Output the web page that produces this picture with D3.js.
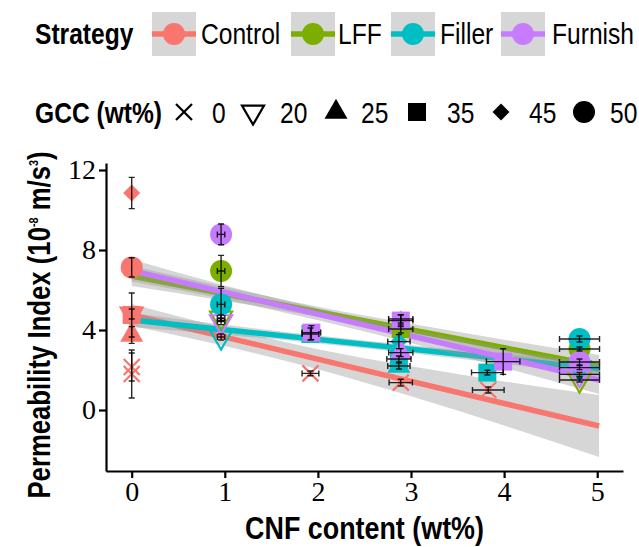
<!DOCTYPE html>
<html>
<head>
<meta charset="utf-8">
<script src="https://cdn.jsdelivr.net/npm/d3@7"></script>
<style>
  html, body { margin: 0; padding: 0; background: #fff; }
  svg { display: block; }
</style>
</head>
<body>
<svg id="chart" width="639" height="547"></svg>
<script>
// ---------------- DATA ----------------
const strategies = ["Control", "LFF", "Filler", "Furnish"];
const gccLevels = [0, 20, 25, 35, 45, 50];
const xTicks = [0, 1, 2, 3, 4, 5];
const yTicks = [0, 4, 8, 12];

// points (one entry per measured sample)
const ptStrategy = ["Control","Control","Control","Control","Control","Control","Control","Control","Control","Control",
                    "LFF","LFF","LFF","LFF","LFF",
                    "Filler","Filler","Filler","Filler","Filler","Filler","Filler","Filler","Filler",
                    "Furnish","Furnish","Furnish","Furnish","Furnish","Furnish","Furnish","Furnish","Furnish"];
const ptGCC      = [0, 0, 20, 25, 35, 45, 50, 0, 0, 0,
                    20, 35, 20, 50, 50,
                    20, 50, 35, 25, 35, 45, 35, 20, 50,
                    20, 50, 35, 25, 35, 45, 35, 20, 50];
const ptCNF      = [0, 0, 0, 0, 0, 0, 0, 1.92, 2.89, 3.83,
                    0.96, 2.89, 4.81, 0.96, 4.81,
                    0.96, 0.96, 1.92, 2.87, 2.87, 2.87, 3.82, 4.81, 4.81,
                    0.96, 0.96, 1.93, 2.89, 2.89, 2.89, 3.99, 4.81, 4.81];
const ptPI       = [2.15, 1.8, 4.8, 3.75, 4.75, 10.85, 7.13, 1.83, 1.37, 1.0,
                    4.6, 4.05, 1.5, 6.95, 3.05,
                    3.65, 5.28, 3.8, 2.2, 2.55, 3.42, 1.87, 2.12, 3.55,
                    4.42, 8.78, 3.87, 2.87, 4.47, 4.55, 2.42, 1.78, 2.4];
const ptCNFerr   = [0, 0, 0, 0, 0, 0, 0, 0.09, 0.125, 0.17,
                    0.04, 0.13, 0.215, 0.04, 0.215,
                    0.04, 0.04, 0.09, 0.12, 0.13, 0.12, 0.17, 0.215, 0.215,
                    0.04, 0.04, 0.1, 0.13, 0.13, 0.13, 0.18, 0.215, 0.215];
const ptPIerr    = [0.7, 1.2, 0.25, 0.42, 1.1, 0.78, 0.48, 0.12, 0.17, 0.15,
                    0.15, 0.2, 0.1, 0.78, 0.1,
                    0.15, 0.8, 0.3, 0.15, 0.15, 0.35, 0.12, 0.1, 0.15,
                    0.15, 0.52, 0.35, 0.2, 0.3, 0.2, 0.64, 0.1, 0.15];

// linear fits at x = 0 and x = 5.02
const fitX0 = 0, fitX1 = 5.02;
const fitAt0 = [4.75, 6.7, 4.5, 6.97];
const fitAt1 = [-0.8, 2.2, 2.06, 1.5];
// confidence band half-widths read at these CNF positions
const bandX = [0, 1, 2, 3, 4, 5.02];
const bandControl = [0.55, 0.45, 0.5, 0.75, 1.1, 1.55];
const bandLFF     = [0.5, 0.35, 0.25, 0.3, 0.4, 0.55];
const bandFiller  = [0.35, 0.25, 0.2, 0.2, 0.25, 0.35];
const bandFurnish = [0.55, 0.35, 0.3, 0.35, 0.5, 0.7];

// ---------------- STYLE ----------------
const colors = {Control: "#F8766D", LFF: "#7CAE00", Filler: "#00BFC4", Furnish: "#C77CFF"};
const bands = {Control: bandControl, LFF: bandLFF, Filler: bandFiller, Furnish: bandFurnish};
const SANS = "'Liberation Sans', Arial, sans-serif";
const SERIF = "'Liberation Serif', 'Times New Roman', serif";

const svg = d3.select("#chart");
const x = d3.scaleLinear().domain([-0.276, 5.277]).range([106, 623]);
const y = d3.scaleLinear().domain([-3.05, 12.35]).range([471, 163]);

// condensed text helper (Arial-Narrow-like look)
function narrowText(parent, tx, ty, str, size, bold, anchor, rotate, squeeze) {
  const g = parent.append("g")
    .attr("transform", `translate(${tx},${ty})` + (rotate ? ` rotate(${rotate})` : "") + ` scale(${squeeze || 0.82},1)`);
  const t = g.append("text")
    .style("font-family", SANS).attr("font-size", size)
    .attr("font-weight", bold ? "bold" : "normal")
    .attr("text-anchor", anchor || "start").attr("fill", "#000");
  if (str !== null) t.text(str);
  return t;
}

// shape path generators (centered at 0,0)
function shapePath(gcc) {
  switch (gcc) {
    case 0:  return "M-8,-8L8,8M-8,8L8,-8";
    case 20: { const w = 11, h = 19; return `M${-w},${-h/3}L${w},${-h/3}L0,${2*h/3}Z`; }
    case 25: { const w = 11.5, h = 20; return `M0,${-2*h/3}L${w},${h/3}L${-w},${h/3}Z`; }
    case 35: return "M-9,-9L9,-9L9,9L-9,9Z";
    case 45: return "M0,-8.5L8.5,0L0,8.5L-8.5,0Z";
    case 50: return null;
  }
}
function drawShape(g, gcc, col) {
  if (gcc === 50) {
    g.append("circle").attr("r", 11).attr("fill", col);
  } else if (gcc === 0) {
    g.append("path").attr("d", shapePath(0)).attr("fill", "none").attr("stroke", col).attr("stroke-width", 2.2);
  } else if (gcc === 20) {
    g.append("path").attr("d", shapePath(20)).attr("fill", "none").attr("stroke", col).attr("stroke-width", 2.2);
  } else {
    g.append("path").attr("d", shapePath(gcc)).attr("fill", col);
  }
}

// ---------------- SMOOTHS (ribbon then line, per group) ----------------
const smoothG = svg.append("g");
strategies.forEach((s, i) => {
  const fit = v => fitAt0[i] + (fitAt1[i] - fitAt0[i]) * (v - fitX0) / (fitX1 - fitX0);
  const bd = bandX.map((bx, k) => ({x: bx, lo: fit(bx) - bands[s][k], hi: fit(bx) + bands[s][k]}));
  smoothG.append("path")
    .datum(bd)
    .attr("d", d3.area().x(d => x(d.x)).y0(d => y(d.lo)).y1(d => y(d.hi)).curve(d3.curveMonotoneX))
    .attr("fill", "#999999").attr("fill-opacity", 0.4);
  smoothG.append("path")
    .datum([fitX0, fitX1])
    .attr("d", d3.line().x(d => x(d)).y(d => y(fit(d))))
    .attr("stroke", colors[s]).attr("stroke-width", 5.5).attr("fill", "none");
});

// ---------------- POINTS ----------------
const pts = ptStrategy.map((s, i) => ({s, gcc: ptGCC[i], cnf: ptCNF[i], pi: ptPI[i], ce: ptCNFerr[i], pe: ptPIerr[i]}));
const order = pts.slice().sort((a, b) => strategies.indexOf(a.s) - strategies.indexOf(b.s) || a.gcc - b.gcc);
const ptG = svg.append("g");
order.forEach(p => {
  const g = ptG.append("g").attr("transform", `translate(${x(p.cnf)},${y(p.pi)})`);
  drawShape(g, p.gcc, colors[p.s]);
});

// ---------------- ERROR BARS ----------------
const ebG = svg.append("g").attr("stroke", "#000").attr("stroke-width", 1.4).attr("stroke-opacity", 0.85).attr("fill", "none");
order.forEach(p => {
  const cx = x(p.cnf), cy = y(p.pi);
  if (p.pe > 0) {
    const y1 = y(p.pi + p.pe), y2 = y(p.pi - p.pe);
    ebG.append("path").attr("d", `M${cx},${y1}L${cx},${y2}M${cx-3},${y1}L${cx+3},${y1}M${cx-3},${y2}L${cx+3},${y2}`);
  }
  if (p.ce > 0) {
    const x1 = x(p.cnf - p.ce), x2 = x(p.cnf + p.ce);
    ebG.append("path").attr("d", `M${x1},${cy}L${x2},${cy}M${x1},${cy-3}L${x1},${cy+3}M${x2},${cy-3}L${x2},${cy+3}`);
  }
});

// ---------------- AXES ----------------
const yAxis = svg.append("g").attr("transform", "translate(106,0)")
  .call(d3.axisLeft(y).tickValues(yTicks).tickFormat(d3.format("d")).tickSize(7).tickPadding(3).tickSizeOuter(0));
const xAxis = svg.append("g").attr("transform", "translate(0,471)")
  .call(d3.axisBottom(x).tickValues(xTicks).tickFormat(d3.format("d")).tickSize(7).tickPadding(3).tickSizeOuter(0));
[yAxis, xAxis].forEach(a => {
  a.attr("font-family", null);
  a.select(".domain").attr("stroke", "#000").attr("stroke-width", 2.2);
  a.selectAll(".tick line").attr("stroke", "#000").attr("stroke-width", 2.2);
  a.selectAll(".tick text").style("font-family", SERIF).attr("font-size", 28).attr("fill", "#000");
});

// axis titles
narrowText(svg, 364.5, 539, "CNF content (wt%)", 32, true, "middle", null, 0.84);
const yt = narrowText(svg, 50, 325, null, 31, true, "middle", -90, 0.83);
yt.append("tspan").text("Permeability Index (10");
yt.append("tspan").attr("font-size", 13).attr("dy", -12).text("-8");
yt.append("tspan").attr("dy", 12).text(" m/s");
yt.append("tspan").attr("font-size", 13).attr("dy", -12).text("3");
yt.append("tspan").attr("dy", 12).text(")");

// ---------------- LEGENDS ----------------
const leg1 = svg.append("g");
const row1Y = 34;
narrowText(leg1, 35, row1Y + 9.5, "Strategy", 30, true);
const keyX = [152, 291, 391, 501];
const labX = [201, 338, 440, 552];
strategies.forEach((s, i) => {
  const g = leg1.append("g").attr("transform", `translate(${keyX[i]},${row1Y - 22})`);
  g.append("rect").attr("width", 44).attr("height", 44).attr("fill", "#999999").attr("fill-opacity", 0.4);
  g.append("line").attr("x1", 0).attr("x2", 44).attr("y1", 22).attr("y2", 22)
    .attr("stroke", colors[s]).attr("stroke-width", 5.5);
  g.append("circle").attr("cx", 22).attr("cy", 22).attr("r", 11).attr("fill", colors[s]);
  narrowText(leg1, labX[i], row1Y + 9.5, s, 30, false);
});

const leg2 = svg.append("g");
const row2Y = 112;
narrowText(leg2, 35, row2Y + 10.5, "GCC (wt%)", 30, true);
const symX = [184, 253, 336, 417, 501, 584];
const gLabX = [212, 280, 361, 447, 529, 610];
gccLevels.forEach((gcc, i) => {
  const g = leg2.append("g").attr("transform", `translate(${symX[i]},${row2Y})`);
  drawShape(g, gcc, "#000");
  narrowText(leg2, gLabX[i], row2Y + 10.5, String(gcc), 30, false);
});
</script>
</body>
</html>
